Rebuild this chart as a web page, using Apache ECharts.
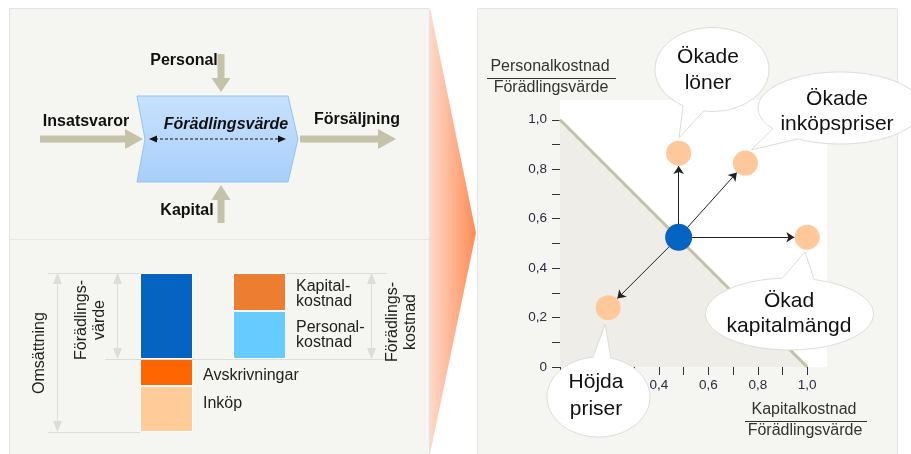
<!DOCTYPE html>
<html><head><meta charset="utf-8">
<script src="https://cdn.jsdelivr.net/npm/echarts@6/dist/echarts.min.js"></script>
<style>html,body{margin:0;padding:0;background:#fff}#c{width:911px;height:454px}</style>
</head><body><div id="c"></div>
<script>
const FONT = '"Liberation Sans", Arial, Helvetica, sans-serif';

// ---- Scatter (right panel) data ----
const originPoint = [0.48, 0.525];
const scenarioNames = ['Ökade löner', 'Ökade inköpspriser', 'Ökad kapitalmängd', 'Höjda priser'];
const scenarioX = [0.48, 0.75, 1.0, 0.195];
const scenarioY = [0.865, 0.825, 0.525, 0.24];
const diagonalX = [0, 1];
const diagonalY = [1, 0];
const tickValues = [0, 0.1, 0.2, 0.3, 0.4, 0.5, 0.6, 0.7, 0.8, 0.9, 1.0];
const labelValues = [0, 0.2, 0.4, 0.6, 0.8, 1.0];

// ---- Stacked bars (bottom-left) data ----
const barCategories = ['Omsättning', 'Förädlingsvärde'];
const inkop = [46, '-'];
const avskrivningar = [27, '-'];
const foradlingsvarde = [86, '-'];
const bas = ['-', 73];
const personalkostnad = ['-', 48];
const kapitalkostnad = ['-', 38];

const chart = echarts.init(document.getElementById('c'), null, {renderer: 'canvas'});

const fmt = v => v === 0 ? '0' : v.toFixed(1).replace('.', ',');

// arrows from origin to scenario points, stopping at circle edge
const R = 0.052;
const arrowData = scenarioX.map((x, i) => {
  const dx = x - originPoint[0], dy = scenarioY[i] - originPoint[1];
  const L = Math.sqrt(dx * dx + dy * dy);
  return {coords: [originPoint.slice(), [x - dx / L * R, scenarioY[i] - dy / L * R]]};
});

function bubblePoints(cx, cy, rx, ry, tx, ty, dDeg) {
  const th = Math.atan2((ty - cy) / ry, (tx - cx) / rx);
  const d = dDeg * Math.PI / 180;
  const pts = [];
  const n = 90;
  for (let k = 0; k <= n; k++) {
    const a = th + d + (2 * Math.PI - 2 * d) * k / n;
    pts.push([cx + rx * Math.cos(a), cy + ry * Math.sin(a)]);
  }
  pts.push([tx, ty]);
  return pts;
}
function bubble(cx, cy, rx, ry, tx, ty, dDeg, lines, tcx, tcy, lh) {
  return [
    {type: 'polygon', z: 100, shape: {points: bubblePoints(cx, cy, rx, ry, tx, ty, dDeg)},
     style: {fill: '#fff', stroke: '#dcdcd8', lineWidth: 1}},
    {type: 'text', z: 101, x: tcx, y: tcy,
     style: {text: lines, fill: '#111', fontSize: 21, fontFamily: FONT, align: 'center', verticalAlign: 'middle', lineHeight: lh}}
  ];
}

const khaki = '#c4c2a8';
const txt = (x, y, text, o) => Object.assign({type: 'text', z: 10, x, y,
  style: Object.assign({text, fill: '#111', fontSize: 16, fontFamily: FONT, align: 'center', verticalAlign: 'middle'}, o || {})});
const poly = (points, fill, z) => ({type: 'polygon', z: z || 5, shape: {points}, style: {fill}});
const line = (x1, y1, x2, y2, stroke, o) => ({type: 'line', z: 4, shape: {x1, y1, x2, y2},
  style: Object.assign({stroke, lineWidth: 1}, o || {})});

const dimColor = '#dcdcd8';
const graphics = [
  // panels
  {type: 'rect', z: -10, shape: {x: 9.5, y: 8.5, width: 420, height: 450}, style: {fill: '#f5f5f1', stroke: '#e4e4e0', lineWidth: 1}},
  {type: 'rect', z: -10, shape: {x: 477.5, y: 8.5, width: 420, height: 450}, style: {fill: '#f5f5f1', stroke: '#e4e4e0', lineWidth: 1}},
  line(10, 239.5, 429, 239.5, '#e6e6e2'),
  // chevron between panels
  {type: 'polygon', z: -5, shape: {points: [[430, 8], [476, 233], [430, 454]]},
   style: {fill: {type: 'linear', x: 0, y: 0, x2: 1, y2: 0, colorStops: [{offset: 0, color: '#fdd9c9'}, {offset: 1, color: '#ff8c55'}]}}},
  // flow diagram: blue box
  {type: 'polygon', z: 3, shape: {points: [[137, 96], [288, 96], [298, 139], [288, 182], [137, 182], [145, 139]]},
   style: {fill: {type: 'linear', x: 0, y: 0, x2: 0, y2: 1, colorStops: [{offset: 0, color: '#c8e1fd'}, {offset: 1, color: '#a8cffa'}]}, stroke: '#92c4f3', lineWidth: 1}},
  // khaki arrows
  poly([[40, 135.5], [125, 135.5], [125, 129], [143, 139], [125, 149], [125, 142.5], [40, 142.5]], khaki),
  poly([[300, 135.5], [378, 135.5], [378, 129], [396, 139], [378, 149], [378, 142.5], [300, 142.5]], khaki),
  poly([[217.5, 54], [224.5, 54], [224.5, 78], [230.5, 78], [221, 92], [211.5, 78], [217.5, 78]], khaki),
  poly([[217.5, 223], [224.5, 223], [224.5, 200], [230.5, 200], [221, 185], [211.5, 200], [217.5, 200]], khaki),
  // dashed double arrow
  line(155, 139, 280, 139, '#111', {lineDash: [3, 2]}),
  poly([[149, 139], [157, 135.5], [157, 142.5]], '#111', 6),
  poly([[286, 139], [278, 135.5], [278, 142.5]], '#111', 6),
  txt(226, 125, 'Förädlingsvärde', {fontWeight: 'bold', fontStyle: 'italic'}),
  txt(184, 61, 'Personal', {fontWeight: 'bold'}),
  txt(86, 122, 'Insatsvaror', {fontWeight: 'bold'}),
  txt(357, 120, 'Försäljning', {fontWeight: 'bold'}),
  txt(187, 211, 'Kapital', {fontWeight: 'bold'}),
  // dimension lines bottom-left
  line(48, 273.5, 140, 273.5, dimColor),
  line(286, 273.5, 387, 273.5, dimColor),
  line(105, 359.5, 385, 359.5, dimColor),
  line(48, 432.5, 140, 432.5, dimColor),
  line(57.5, 280, 57.5, 426, dimColor),
  poly([[57.5, 273], [53, 284], [62, 284]], dimColor, 4),
  poly([[57.5, 432], [53, 421], [62, 421]], dimColor, 4),
  line(117.5, 280, 117.5, 353, dimColor),
  poly([[117.5, 273], [113, 284], [122, 284]], dimColor, 4),
  poly([[117.5, 359], [113, 348], [122, 348]], dimColor, 4),
  line(371.5, 280, 371.5, 353, dimColor),
  poly([[371.5, 273], [367, 284], [376, 284]], dimColor, 4),
  poly([[371.5, 359], [367, 348], [376, 348]], dimColor, 4),
  txt(40, 353, 'Omsättning', {fill: '#222'}),
  txt(91, 320, 'Förädlings-\nvärde', {fill: '#222', lineHeight: 18}),
  txt(402, 322, 'Förädlings-\nkostnad', {fill: '#222', lineHeight: 18}),
  // axis titles (fractions)
  txt(550, 67, 'Personalkostnad', {fill: '#333'}),
  line(487, 78.5, 616, 78.5, '#333'),
  txt(551, 88, 'Förädlingsvärde', {fill: '#333'}),
  txt(804, 410, 'Kapitalkostnad', {fill: '#333'}),
  line(745, 421.5, 867, 421.5, '#333'),
  txt(805, 431, 'Förädlingsvärde', {fill: '#333'})
];
// rotate the vertical labels
graphics.forEach(g => {
  if (g.type === 'text' && (g.style.text === 'Omsättning' || g.style.text.indexOf('Förädlings-') === 0)) g.rotation = Math.PI / 2;
});

graphics.push(...bubble(712, 69.5, 57, 42, 679, 138, 11, 'Ökade\nlöner', 708, 70, 26));
graphics.push(...bubble(840, 108, 82, 36, 751, 150, 12, 'Ökade\ninköpspriser', 837, 112, 25));
graphics.push(...bubble(789.5, 314, 84, 36, 805, 252, 11, 'Ökad\nkapitalmängd', 789, 314, 25));
graphics.push(...bubble(598.5, 397, 51.5, 40, 605, 324, 10, 'Höjda\npriser', 596, 396, 27));

const barLabel = (text, extra) => Object.assign({show: true, position: 'right', distance: 10, formatter: text,
  fontSize: 16, color: '#222', fontFamily: FONT, lineHeight: 15}, extra || {});
const barSeries = (name, data, color, label) => ({
  type: 'bar', name, xAxisIndex: 1, yAxisIndex: 1, stack: 'tot', data, barWidth: 53,
  itemStyle: {color, borderColor: color === 'transparent' ? 'transparent' : '#fff', borderWidth: color === 'transparent' ? 0 : 1},
  label: label || {show: false}, silent: true
});

const option = {
  animation: false,
  backgroundColor: '#fff',
  textStyle: {fontFamily: FONT},
  grid: [
    {left: 560, top: 100, width: 267, height: 267, show: true, backgroundColor: '#fff', borderWidth: 0, z: 0},
    {left: 120, top: 273, width: 186, height: 159}
  ],
  xAxis: [
    {type: 'value', gridIndex: 0, min: 0, max: 1.08,
     axisLine: {show: false}, splitLine: {show: false},
     axisTick: {show: true, customValues: tickValues, length: 8, lineStyle: {color: '#333', width: 1}},
     axisLabel: {customValues: labelValues, formatter: fmt, margin: 11, fontSize: 13.5, color: '#2a2a40', fontFamily: FONT}},
    {type: 'category', gridIndex: 1, data: barCategories, show: false}
  ],
  yAxis: [
    {type: 'value', gridIndex: 0, min: 0, max: 1.08,
     axisLine: {show: false}, splitLine: {show: false},
     axisTick: {show: true, customValues: tickValues, length: 8, lineStyle: {color: '#333', width: 1}},
     axisLabel: {customValues: labelValues, formatter: fmt, margin: 13, fontSize: 13.5, color: '#2a2a40', fontFamily: FONT}},
    {type: 'value', gridIndex: 1, min: 0, max: 159, show: false}
  ],
  graphic: {elements: graphics},
  series: [
    {type: 'line', xAxisIndex: 0, yAxisIndex: 0, data: diagonalX.map((x, i) => [x, diagonalY[i]]),
     symbol: 'none', lineStyle: {color: '#c3c1a6', width: 3}, areaStyle: {color: '#eeede7', opacity: 1}, z: 1, silent: true},
    {type: 'lines', coordinateSystem: 'cartesian2d', xAxisIndex: 0, yAxisIndex: 0, data: arrowData,
     symbol: ['none', 'arrow'], symbolSize: 8, lineStyle: {color: '#222', width: 1, opacity: 1}, z: 3, silent: true},
    {type: 'scatter', xAxisIndex: 0, yAxisIndex: 0, data: [originPoint], symbolSize: 27,
     itemStyle: {color: '#0563c1', opacity: 1}, z: 4, silent: true},
    {type: 'scatter', xAxisIndex: 0, yAxisIndex: 0, name: 'Scenarier',
     data: scenarioX.map((x, i) => ({name: scenarioNames[i], value: [x, scenarioY[i]]})), symbolSize: 25,
     itemStyle: {color: '#fec89a', opacity: 1}, z: 4, silent: true},
    barSeries('Inköp', inkop, '#ffcc99', barLabel('Inköp', {offset: [0, -5]})),
    barSeries('Avskrivningar', avskrivningar, '#ff6600', barLabel('Avskrivningar', {offset: [0, 3]})),
    barSeries('Förädlingsvärde', foradlingsvarde, '#0563c1'),
    barSeries('Bas', bas, 'transparent'),
    barSeries('Personalkostnad', personalkostnad, '#66ccff', barLabel('Personal-\nkostnad')),
    barSeries('Kapitalkostnad', kapitalkostnad, '#ed7d31', barLabel('Kapital-\nkostnad', {offset: [0, 2]}))
  ]
};
chart.setOption(option);
</script>
</body></html>
